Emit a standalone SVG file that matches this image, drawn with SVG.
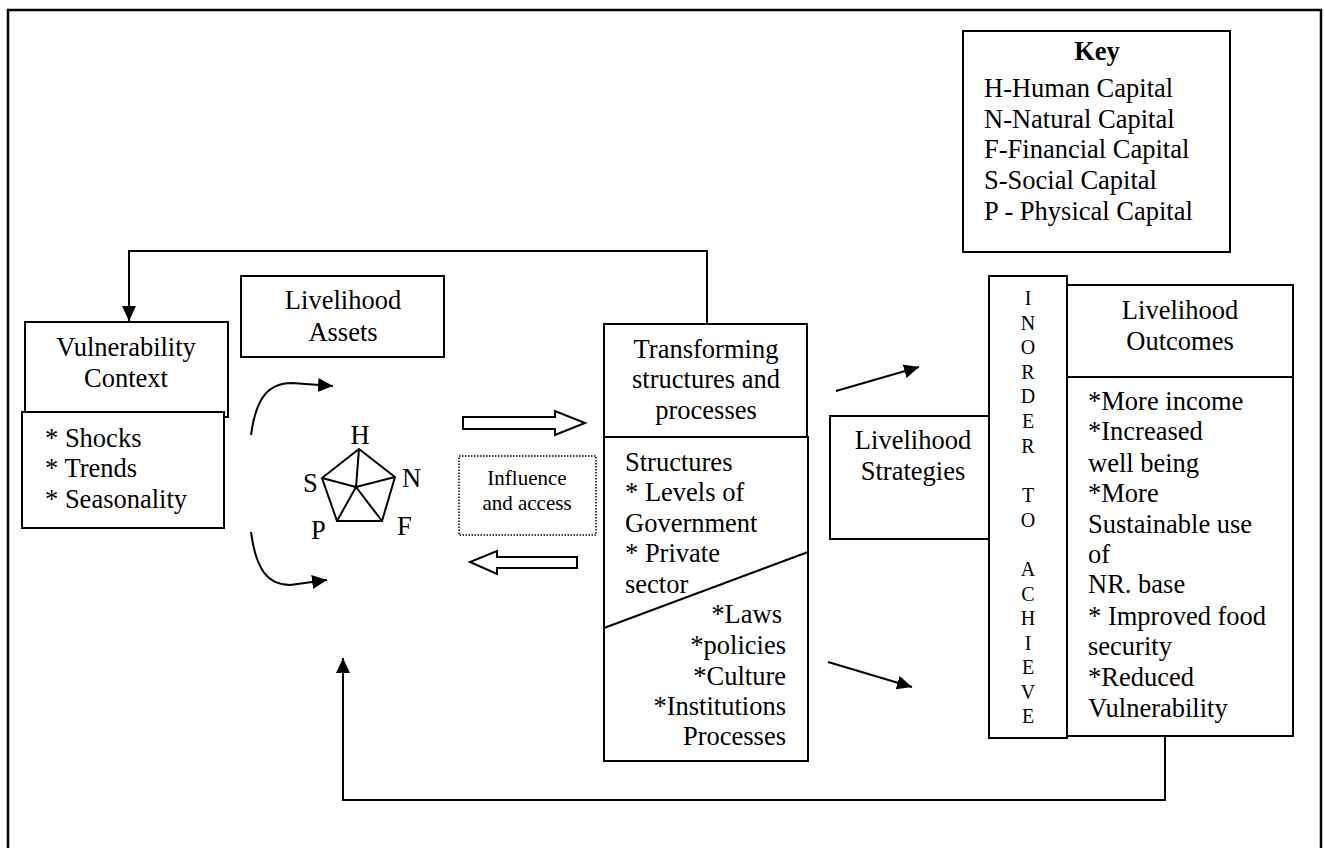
<svg xmlns="http://www.w3.org/2000/svg" width="1325" height="848" viewBox="0 0 1325 848" font-family="'Liberation Serif', 'Times New Roman', serif">
<defs>
<style>
.box{fill:#fff;stroke:#000;stroke-width:2}
.ln{fill:none;stroke:#000;stroke-width:2}
text{font-family:'Liberation Serif','Times New Roman',serif}
.t{font-size:26.5px;fill:#000}
.c{text-anchor:middle}
.r{text-anchor:end}
.s{font-size:21px}
.v{font-size:20px;text-anchor:middle;fill:#000}
</style>
<marker id="ah" markerUnits="userSpaceOnUse" markerWidth="16" markerHeight="16" viewBox="0 0 16 16" refX="15" refY="8" orient="auto">
<path d="M0,1 L15,8 L0,15 Z" fill="#000"/>
</marker>
</defs>
<rect x="8" y="10" width="1313" height="845" fill="#fff" stroke="#000" stroke-width="2.5"/>

<g id="connectors">
<path class="ln" d="M707,323 V251 H129 V321" marker-end="url(#ah)"/>
<path class="ln" d="M1165,728 V800 H343 V658" marker-end="url(#ah)"/>
<path class="ln" d="M251,435 C256,398 268,383 292,383 L333,386" marker-end="url(#ah)"/>
<path class="ln" d="M251,532 C256,570 268,585 290,585 L327,580" marker-end="url(#ah)"/>
<path class="ln" d="M836,391 L919,367" marker-end="url(#ah)"/>
<path class="ln" d="M828,662 L912,687" marker-end="url(#ah)"/>
<polygon class="box" points="463,417 555,417 555,411 585,423 555,435 555,429 463,429"/>
<polygon class="box" points="577,557 497,557 497,551 470,562 497,574 497,568 577,568"/>
</g>

<g id="key">
<rect class="box" x="963" y="31" width="267" height="221"/>
<text class="t c" x="1097" y="60" font-weight="bold">Key</text>
<text class="t" x="984" y="97">H-Human Capital</text>
<text class="t" x="984" y="128">N-Natural Capital</text>
<text class="t" x="984" y="158">F-Financial Capital</text>
<text class="t" x="984" y="189">S-Social Capital</text>
<text class="t" x="984" y="220">P - Physical Capital</text>
</g>

<g id="vulnerability">
<rect class="box" x="25" y="322" width="203" height="95"/>
<text class="t c" x="126" y="356">Vulnerability</text>
<text class="t c" x="126" y="387">Context</text>
<rect class="box" x="22" y="412" width="202" height="116"/>
<text class="t" x="45" y="447">* Shocks</text>
<text class="t" x="45" y="477">* Trends</text>
<text class="t" x="45" y="508">* Seasonality</text>
</g>

<g id="assets">
<rect class="box" x="241" y="276" width="203" height="81"/>
<text class="t c" x="343" y="309">Livelihood</text>
<text class="t c" x="343" y="341">Assets</text>
</g>

<g id="pentagon">
<polygon class="ln" points="359,449 395,477 382,521 337,521 322,478"/>
<path class="ln" d="M356,487 L359,449 M356,487 L395,477 M356,487 L382,521 M356,487 L337,521 M356,487 L322,478"/>
<text class="t" x="360" y="444" text-anchor="middle" font-size="24">H</text>
<text class="t" x="402" y="487" font-size="24">N</text>
<text class="t" x="303" y="492" font-size="24">S</text>
<text class="t" x="311" y="539" font-size="24">P</text>
<text class="t" x="397" y="535" font-size="24">F</text>
</g>

<g id="influence">
<rect x="459" y="456" width="137" height="79" fill="none" stroke="#000" stroke-width="1.5" stroke-dasharray="1.5,1.5"/>
<text class="t c s" x="527" y="485">Influence</text>
<text class="t c s" x="527" y="510">and access</text>
</g>

<g id="transforming">
<rect class="box" x="604" y="324" width="203" height="113"/>
<text class="t c" x="706" y="358">Transforming</text>
<text class="t c" x="706" y="388">structures and</text>
<text class="t c" x="706" y="419">processes</text>
<rect class="box" x="604" y="437" width="204" height="324"/>
<line class="ln" x1="604" y1="628" x2="808" y2="552"/>
<text class="t" x="625" y="471">Structures</text>
<text class="t" x="625" y="501">* Levels of</text>
<text class="t" x="625" y="532">Government</text>
<text class="t" x="625" y="562">* Private</text>
<text class="t" x="625" y="593">sector</text>
<text class="t r" x="782" y="623">*Laws</text>
<text class="t r" x="786" y="654">*policies</text>
<text class="t r" x="786" y="685">*Culture</text>
<text class="t r" x="786" y="715">*Institutions</text>
<text class="t r" x="786" y="745">Processes</text>
</g>

<g id="strategies">
<rect class="box" x="830" y="416" width="159" height="123"/>
<text class="t c" x="913" y="449">Livelihood</text>
<text class="t c" x="913" y="480">Strategies</text>
</g>

<g id="inorder">
<rect class="box" x="989" y="276" width="78" height="462"/>
<text class="v" x="1028" y="305">I</text>
<text class="v" x="1028" y="330">N</text>
<text class="v" x="1028" y="354">O</text>
<text class="v" x="1028" y="379">R</text>
<text class="v" x="1028" y="403">D</text>
<text class="v" x="1028" y="428">E</text>
<text class="v" x="1028" y="453">R</text>
<text class="v" x="1028" y="502">T</text>
<text class="v" x="1028" y="527">O</text>
<text class="v" x="1028" y="576">A</text>
<text class="v" x="1028" y="601">C</text>
<text class="v" x="1028" y="625">H</text>
<text class="v" x="1028" y="650">I</text>
<text class="v" x="1028" y="674">E</text>
<text class="v" x="1028" y="699">V</text>
<text class="v" x="1028" y="723">E</text>
</g>

<g id="outcomes">
<rect class="box" x="1067" y="285" width="226" height="92"/>
<text class="t c" x="1180" y="319">Livelihood</text>
<text class="t c" x="1180" y="350">Outcomes</text>
<rect class="box" x="1067" y="377" width="226" height="359"/>
<text class="t" x="1088" y="410">*More income</text>
<text class="t" x="1088" y="440">*Increased</text>
<text class="t" x="1088" y="472">well being</text>
<text class="t" x="1088" y="502">*More</text>
<text class="t" x="1088" y="533">Sustainable use</text>
<text class="t" x="1088" y="563">of</text>
<text class="t" x="1088" y="593">NR. base</text>
<text class="t" x="1088" y="625">* Improved food</text>
<text class="t" x="1088" y="655">security</text>
<text class="t" x="1088" y="686">*Reduced</text>
<text class="t" x="1088" y="717">Vulnerability</text>
</g>
</svg>
